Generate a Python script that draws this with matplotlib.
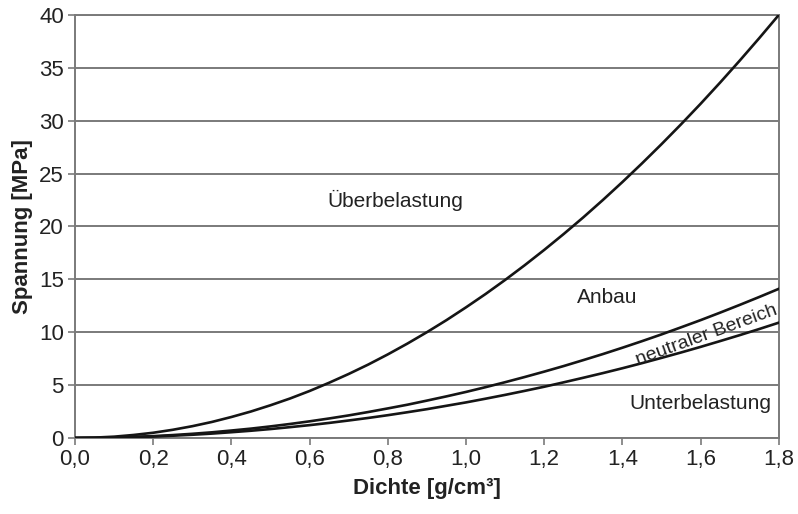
import numpy as np
import matplotlib.pyplot as plt

plt.rcParams['font.family'] = ['Liberation Sans', 'DejaVu Sans']

# Dichte [g/cm3]
dichte = [0.0, 0.05, 0.1, 0.15, 0.2, 0.25, 0.3, 0.35, 0.4, 0.45, 0.5, 0.55,
          0.6, 0.65, 0.7, 0.75, 0.8, 0.85, 0.9, 0.95, 1.0, 1.05, 1.1, 1.15,
          1.2, 1.25, 1.3, 1.35, 1.4, 1.45, 1.5, 1.55, 1.6, 1.65, 1.7, 1.75, 1.8]
# obere Grenze (Ueberbelastung / Anbau)
oben = [0.0, 0.03, 0.12, 0.28, 0.49, 0.77, 1.11, 1.51, 1.98, 2.50, 3.09, 3.73,
        4.44, 5.22, 6.05, 6.94, 7.90, 8.92, 10.0, 11.14, 12.35, 13.61, 14.94, 16.33,
        17.78, 19.29, 20.86, 22.50, 24.2, 25.96, 27.78, 29.66, 31.6, 33.61, 35.68, 37.81, 40.0]
# neutraler Bereich, obere Linie
mitte = [0.0, 0.01, 0.04, 0.10, 0.17, 0.27, 0.39, 0.53, 0.70, 0.88, 1.09, 1.32,
         1.57, 1.84, 2.13, 2.45, 2.79, 3.14, 3.53, 3.93, 4.35, 4.80, 5.27, 5.76,
         6.27, 6.80, 7.36, 7.93, 8.53, 9.15, 9.79, 10.46, 11.14, 11.85, 12.58, 13.33, 14.1]
# neutraler Bereich, untere Linie
unten = [0.0, 0.01, 0.03, 0.08, 0.13, 0.21, 0.30, 0.41, 0.54, 0.68, 0.84, 1.02,
         1.21, 1.42, 1.65, 1.89, 2.15, 2.43, 2.72, 3.04, 3.36, 3.71, 4.07, 4.45,
         4.84, 5.26, 5.69, 6.13, 6.59, 7.07, 7.57, 8.08, 8.61, 9.16, 9.72, 10.30, 10.9]

x_ticks = [0.0, 0.2, 0.4, 0.6, 0.8, 1.0, 1.2, 1.4, 1.6, 1.8]
x_labels = ['0,0', '0,2', '0,4', '0,6', '0,8', '1,0', '1,2', '1,4', '1,6', '1,8']
y_ticks = [0, 5, 10, 15, 20, 25, 30, 35, 40]

fig = plt.figure(figsize=(7.98, 5.14), dpi=100)
ax = fig.add_axes([0.094, 0.148, 0.882, 0.823])

grey = '#7a7a7a'
for y in y_ticks:
    ax.axhline(y, color=grey, lw=1.4, zorder=1)

for serie in (oben, mitte, unten):
    ax.plot(dichte, serie, color='#151515', lw=1.9, zorder=3)

ax.set_xlim(0, 1.8)
ax.set_ylim(0, 40)
ax.set_xticks(x_ticks)
ax.set_xticklabels(x_labels)
ax.set_yticks(y_ticks)
ax.tick_params(axis='both', direction='out', length=5, width=1.2, color=grey,
               labelsize=16, labelcolor='#222222', pad=3)
for s in ax.spines.values():
    s.set_color(grey)
    s.set_linewidth(1.4)

ax.set_xlabel('Dichte [g/cm³]', fontsize=16, fontweight='bold', color='#222222', labelpad=6)
ax.set_ylabel('Spannung [MPa]', fontsize=16, fontweight='bold', color='#222222', labelpad=4)

txt = dict(fontsize=15, color='#222222', ha='center', va='center', zorder=4)
ax.text(0.818, 22.5, 'Überbelastung', **txt)
ax.text(1.36, 13.3, 'Anbau', **txt)
ax.text(1.60, 3.3, 'Unterbelastung', **txt)
ax.text(1.615, 9.75, 'neutraler Bereich', fontsize=14, color='#222222', ha='center',
        va='center', rotation=20, rotation_mode='anchor', zorder=4)

fig.savefig('out.png', dpi=100)
